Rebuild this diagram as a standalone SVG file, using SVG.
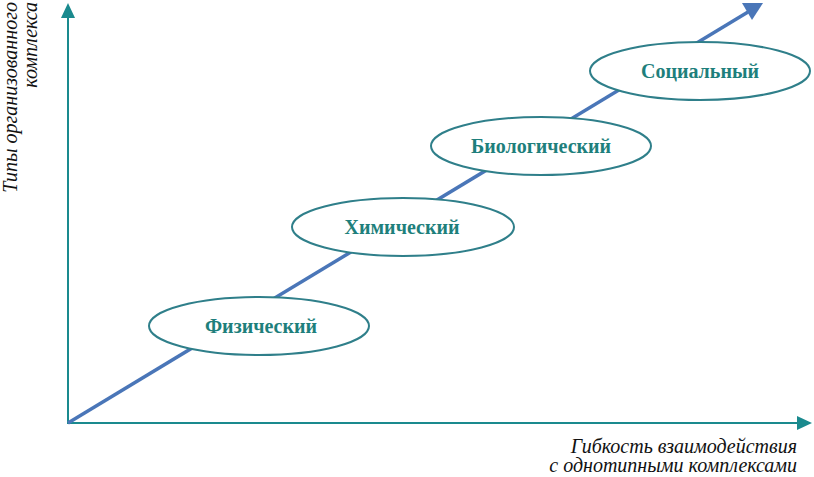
<svg xmlns="http://www.w3.org/2000/svg" width="814" height="477" viewBox="0 0 814 477">
<style>
.axis{stroke:#1a8a8e;stroke-width:2;fill:none}
.diag{stroke:#4a76b8;stroke-width:3.5;fill:none}
.node ellipse{fill:#fff;stroke:#2f7f8a;stroke-width:2}
.node text{font-family:"Liberation Serif","DejaVu Serif",serif;font-weight:bold;font-size:20px;fill:#1e7f7c;text-anchor:middle}
.lbl{font-family:"Liberation Serif","DejaVu Serif",serif;font-style:italic;font-size:20px;fill:#111}
</style>
<g id="connectors">
<line class="axis" x1="68" y1="424" x2="68" y2="14"/>
<path d="M61,18 L68,3 L75,18 z" fill="#1a8a8e"/>
<line class="axis" x1="67" y1="423" x2="798" y2="423"/>
<path d="M797,416 L812,423 L797,430 z" fill="#1a8a8e"/>
<line class="diag" x1="68" y1="423" x2="748" y2="12"/>
<path d="M742,3 L763,3 L752,20 z" fill="#4a76b8"/>
</g>
<g id="n1" class="node"><ellipse cx="259" cy="326" rx="110" ry="29"/><text x="261" y="333">Физический</text></g>
<g id="n2" class="node"><ellipse cx="403" cy="227" rx="111" ry="29"/><text x="402" y="234">Химический</text></g>
<g id="n3" class="node"><ellipse cx="541" cy="146" rx="110" ry="29"/><text x="541" y="153">Биологический</text></g>
<g id="n4" class="node"><ellipse cx="700" cy="71" rx="110" ry="29"/><text x="700" y="78">Социальный</text></g>
<g id="axis-labels">
<text class="lbl" transform="translate(17,0) rotate(-90)" text-anchor="end" x="-2" y="0">Типы организованного</text>
<text class="lbl" transform="translate(37,0) rotate(-90)" text-anchor="end" x="-2" y="0">комплекса</text>
<text class="lbl" x="797" y="453" text-anchor="end">Гибкость взаимодействия</text>
<text class="lbl" x="797" y="472" text-anchor="end">с однотипными комплексами</text>
</g>
</svg>
